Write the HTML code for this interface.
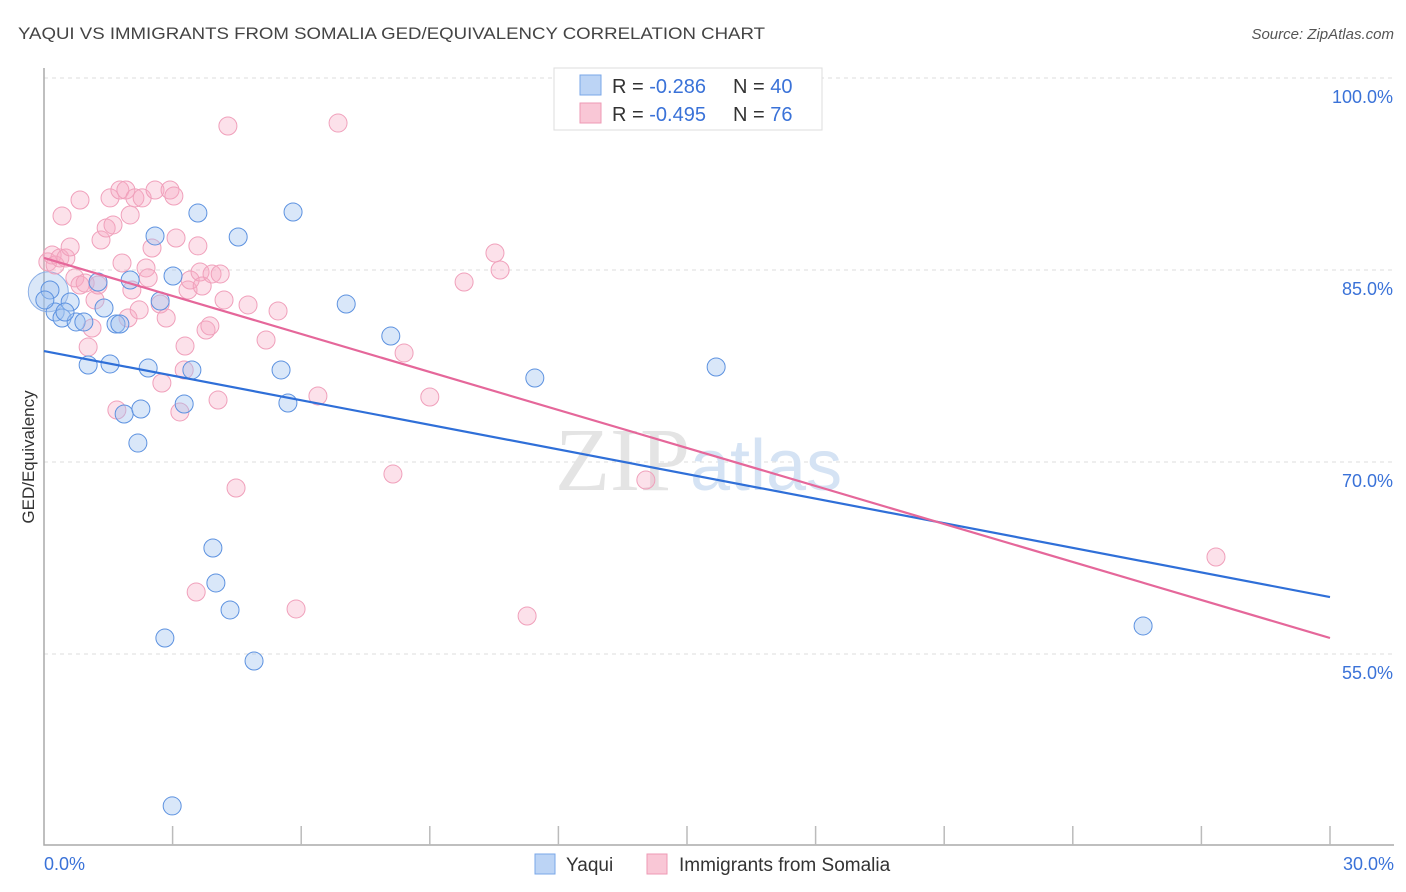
<!DOCTYPE html>
<html><head><meta charset="utf-8">
<style>
body{margin:0;background:#fff;width:1406px;height:892px;overflow:hidden;font-family:"Liberation Sans",sans-serif}
svg{position:absolute;left:0;top:0}
</style></head>
<body>
<svg id="chart" width="1406" height="892">
<text x="18" y="39" font-size="17" fill="#444" textLength="747" lengthAdjust="spacingAndGlyphs">YAQUI VS IMMIGRANTS FROM SOMALIA GED/EQUIVALENCY CORRELATION CHART</text>
<text x="1394" y="39" font-size="15" fill="#555" text-anchor="end" font-style="italic">Source: ZipAtlas.com</text>
<text x="34" y="457" font-size="17" fill="#333" text-anchor="middle" transform="rotate(-90 34 457)">GED/Equivalency</text>
<g id="grid"></g>
<text x="555" y="490" font-size="90" fill="#e4e4e4" font-family="Liberation Serif,serif">ZIP<tspan fill="#d5e3f4" font-family="Liberation Sans,sans-serif" font-size="72">atlas</tspan></text>
<g id="pts"></g>
<g id="lines"></g>
<g>
<rect x="554" y="68" width="268" height="62" fill="#fff" stroke="#ddd"/>
<rect x="580" y="75" width="21" height="20" fill="#bcd4f5" stroke="#7aa7e8"/>
<rect x="580" y="103" width="21" height="20" fill="#f9c7d6" stroke="#ee9ab4"/>
<text x="612" y="93" font-size="20" fill="#333">R = <tspan fill="#3a72d8">-0.286</tspan><tspan x="733">N = </tspan><tspan fill="#3a72d8">40</tspan></text>
<text x="612" y="121" font-size="20" fill="#333">R = <tspan fill="#3a72d8">-0.495</tspan><tspan x="733">N = </tspan><tspan fill="#3a72d8"> 76</tspan></text>
</g>
<g>
<rect x="535" y="854" width="20" height="20" fill="#bcd4f5" stroke="#7aa7e8"/>
<text x="566" y="871" font-size="19" fill="#333">Yaqui</text>
<rect x="647" y="854" width="20" height="20" fill="#f9c7d6" stroke="#ee9ab4"/>
<text x="679" y="871" font-size="19" fill="#333">Immigrants from Somalia</text>
</g>
</svg>
<script>
const blueX=[0.14,0.26,0.42,0.61,0.75,0.93,1.03,1.26,1.4,1.54,1.68,1.77,1.87,2.01,2.19,2.26,2.43,2.59,2.71,2.82,2.99,3.01,3.27,3.45,3.59,3.94,4.01,4.34,4.53,4.9,5.53,5.69,5.81,7.05,8.09,11.45,15.68,25.64,0.49,0.02];
const blueY=[83.44,81.72,81.25,82.5,80.94,80.94,77.58,84.06,82.03,77.66,80.78,80.78,73.75,84.22,71.48,74.14,77.34,87.66,82.58,56.25,43.13,84.53,74.53,77.19,89.45,63.28,60.55,58.44,87.58,54.45,77.19,74.61,89.53,82.34,79.84,76.56,77.42,57.19,81.72,82.66];
const pinkX=[0.09,0.19,0.26,0.37,0.42,0.51,0.61,0.72,0.84,0.84,0.96,1.03,1.12,1.19,1.26,1.33,1.45,1.54,1.61,1.7,1.77,1.82,1.91,1.96,2.01,2.05,2.12,2.22,2.29,2.38,2.43,2.52,2.59,2.71,2.75,2.85,2.94,3.03,3.08,3.17,3.27,3.29,3.36,3.41,3.55,3.59,3.64,3.69,3.78,3.87,3.92,4.06,4.11,4.2,4.29,4.48,4.76,5.18,5.46,5.88,6.39,6.86,8.14,8.4,9.0,9.8,10.52,10.64,11.27,14.04,27.34];
const pinkY=[85.63,86.17,85.39,85.94,89.22,85.94,86.8,84.38,90.47,83.83,83.98,78.98,80.47,82.66,83.83,87.34,88.28,90.63,88.52,74.06,91.25,85.55,91.25,81.25,89.3,83.44,90.63,81.88,90.63,85.16,84.38,86.72,91.25,82.34,76.17,81.25,91.25,90.78,87.5,73.91,77.19,79.06,83.44,84.22,59.84,86.88,84.84,83.75,80.31,80.63,84.69,74.84,84.69,82.66,96.25,67.97,82.27,79.53,81.8,58.52,75.16,96.48,69.06,78.52,75.08,84.06,86.33,85.0,57.97,68.59,62.58];
const blueTrend=[78.67,59.45];
const pinkTrend=[85.94,56.25];
const yTicks=[100,85,70,55];
const xTickLabels=["0.0%","30.0%"];
const NS="http://www.w3.org/2000/svg";
const sx=v=>44+v/30*1286;
const sy=v=>78+(100-v)/15*192;
function mk(tag,attrs,parent){const e=document.createElementNS(NS,tag);for(const k in attrs)e.setAttribute(k,attrs[k]);parent.appendChild(e);return e;}
const grid=document.getElementById('grid');
yTicks.forEach(t=>{
  const l=mk('line',{x1:44,x2:1394,y1:sy(t),y2:sy(t),stroke:'#ddd','stroke-dasharray':'4,4'},grid);
  
  
  const tx=mk('text',{x:1393,y:sy(t)+25,'font-size':18,fill:'#3a72d8','text-anchor':'end'},grid);
  tx.textContent=t.toFixed(1)+'%';
  
  
});
const ax=mk('path',{d:'M44,68 V845 H1394',fill:'none',stroke:'#aaa','stroke-width':1.5},grid);


for(let i=1;i<=10;i++){
  const t=mk('line',{x1:sx(i*3),x2:sx(i*3),y1:826,y2:845,stroke:'#bbb','stroke-width':1.5},grid);
  
  
}
[[0,'start',44],[30,'end',1394]].forEach((a,i)=>{
  const tx=mk('text',{x:a[2],y:870,'font-size':18,fill:'#3a72d8','text-anchor':a[1]},grid);
  tx.textContent=xTickLabels[i];
  
  
});
const pts=document.getElementById('pts');
const big1=mk('circle',{cx:sx(0.1),cy:sy(83.3),r:20,fill:'rgba(150,185,235,0.35)',stroke:'#8db0e6'},pts);


pinkX.forEach((x,i)=>{
  const c=mk('circle',{cx:sx(x),cy:sy(pinkY[i]),r:9,fill:'rgba(246,170,195,0.35)',stroke:'#f0a0bb'},pts);
  
  
});
blueX.forEach((x,i)=>{
  const c=mk('circle',{cx:sx(x),cy:sy(blueY[i]),r:9,fill:'rgba(160,195,240,0.4)',stroke:'#5d92e0'},pts);
  
  
});
const lines=document.getElementById('lines');
const bl=mk('line',{x1:sx(0),y1:sy(blueTrend[0]),x2:sx(30),y2:sy(blueTrend[1]),stroke:'#2f6fd8','stroke-width':2.2},lines);


const pl=mk('line',{x1:sx(0),y1:sy(pinkTrend[0]),x2:sx(30),y2:sy(pinkTrend[1]),stroke:'#e5679a','stroke-width':2.2},lines);


</script>
</body></html>
